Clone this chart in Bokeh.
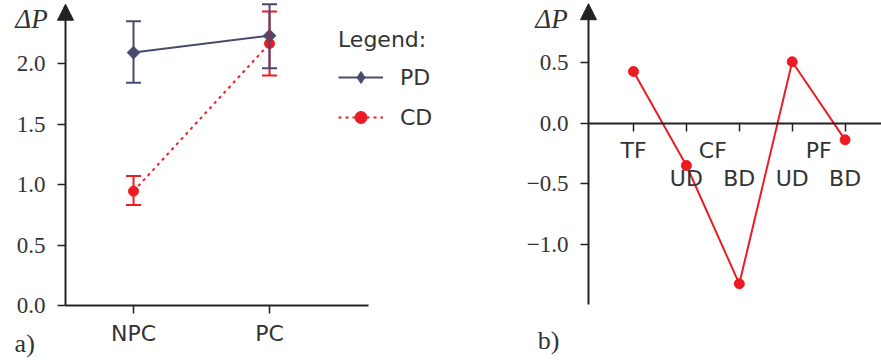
from bokeh.plotting import figure
from bokeh.models import (ColumnDataSource, Range1d, LinearAxis, FixedTicker, Whisker,
                          TeeHead, Arrow, NormalHead, Legend, LegendItem)
from bokeh.layouts import row
from bokeh.core.properties import value
from bokeh.embed import file_html
from bokeh.resources import INLINE

# ---------------- data: panel a ----------------
conditions = ["NPC", "PC"]
pd_mean = [2.09, 2.23]
pd_upper = [2.35, 2.49]
pd_lower = [1.84, 1.96]
cd_mean = [0.945, 2.165]
cd_upper = [1.07, 2.43]
cd_lower = [0.83, 1.90]
yticks_a = [0.0, 0.5, 1.0, 1.5, 2.0]
ytick_labels_a = ["0.0", "0.5", "1.0", "1.5", "2.0"]

# ---------------- data: panel b ----------------
point_groups = ["TF", "CF", "CF", "PF", "PF"]
point_subs = ["", "UD", "BD", "UD", "BD"]
delta_b = [0.43, -0.347, -1.325, 0.51, -0.135]
yticks_b = [0.5, 0.0, -0.5, -1.0]
ytick_labels_b = ["0.5", "0.0", "\u22120.5", "\u22121.0"]

PD_COLOR = "#4a4a6e"
CD_COLOR = "#ec1c24"
AXIS_COLOR = "#222222"
TEXT_COLOR = "#333333"
SANS = "DejaVu Sans"
SERIF = "Liberation Serif"
H = 360


def base_fig(width, xr, yr):
    p = figure(width=width, height=H, x_range=Range1d(*xr), y_range=Range1d(*yr),
               x_axis_type=None, y_axis_type=None, toolbar_location=None,
               output_backend="svg", min_border=0, outline_line_color=None,
               background_fill_color="white", border_fill_color="white")
    return p


def style_axis(ax, font, size):
    ax.axis_line_color = AXIS_COLOR
    ax.axis_line_width = 2
    ax.major_tick_line_color = AXIS_COLOR
    ax.major_tick_line_width = 1.5
    ax.major_tick_out = 8
    ax.major_tick_in = 0
    ax.minor_tick_line_color = None
    ax.major_label_text_font = font
    ax.major_label_text_font_size = size
    ax.major_label_text_color = TEXT_COLOR


# ================= panel a =================
xa = list(range(len(conditions)))
AX_A = -0.5
pa = base_fig(440, (-0.978, 2.257), (-0.4545, 2.5207))

ya = LinearAxis(fixed_location=AX_A, bounds=(0, 2.40), ticker=FixedTicker(ticks=yticks_a),
                major_label_overrides=dict(zip(yticks_a, ytick_labels_a)))
style_axis(ya, SERIF, "23px")
ya.major_label_standoff = 12
pa.add_layout(ya, "left")

xa_axis = LinearAxis(fixed_location=0, bounds=(AX_A, 1.728), ticker=FixedTicker(ticks=xa),
                     major_label_overrides=dict(zip(xa, conditions)))
style_axis(xa_axis, SANS, "22px")
xa_axis.major_label_standoff = 7
pa.add_layout(xa_axis, "below")

pa.add_layout(Arrow(end=NormalHead(size=16, fill_color=AXIS_COLOR, line_color=AXIS_COLOR, line_width=1),
                    x_start=AX_A, y_start=2.36, x_end=AX_A, y_end=2.49,
                    line_color=AXIS_COLOR, line_width=2))

src_cd = ColumnDataSource(dict(x=xa, m=cd_mean, up=cd_upper, lo=cd_lower))
src_pd = ColumnDataSource(dict(x=xa, m=pd_mean, up=pd_upper, lo=pd_lower))

for src, col in ((src_cd, CD_COLOR), (src_pd, PD_COLOR)):
    pa.add_layout(Whisker(source=src, base="x", upper="up", lower="lo", dimension="height",
                          line_color=col, line_width=2, level="glyph",
                          upper_head=TeeHead(size=15, line_color=col, line_width=2),
                          lower_head=TeeHead(size=15, line_color=col, line_width=2)))

cd_line = pa.line("x", "m", source=src_cd, line_color=CD_COLOR, line_width=2, line_dash="3 4")
cd_sc = pa.scatter("x", "m", source=src_cd, marker="circle", size=10,
                   fill_color=CD_COLOR, line_color=CD_COLOR)
pd_line = pa.line("x", "m", source=src_pd, line_color=PD_COLOR, line_width=2)
# diamond (drawn underneath, used for the legend sample) + rotated square on top
pd_dia = pa.scatter("x", "m", source=src_pd, marker="diamond", size=12,
                    fill_color=PD_COLOR, line_color=PD_COLOR)
pd_sc = pa.scatter("x", "m", source=src_pd, marker="square", angle=0.785398, size=9,
                   fill_color=PD_COLOR, line_color=PD_COLOR)

pa.text(x=[-0.75], y=[2.368], text=["\u0394P"], text_font=value(SERIF), text_font_style="italic",
        text_font_size="27px", text_align="center", text_baseline="middle", text_color=TEXT_COLOR)
pa.text(x=[-0.80], y=[-0.31], text=["a)"], text_font=value(SERIF),
        text_font_size="26px", text_align="center", text_baseline="middle", text_color=TEXT_COLOR)

legend = Legend(items=[LegendItem(label="PD", renderers=[pd_line, pd_dia]),
                       LegendItem(label="CD", renderers=[cd_line, cd_sc])],
                title="Legend:", location=(338, 228),
                title_text_font=SANS, title_text_font_size="22px", title_text_font_style="normal",
                title_text_color=TEXT_COLOR, title_standoff=10,
                label_text_font=SANS, label_text_font_size="22px", label_text_color=TEXT_COLOR,
                label_standoff=17, glyph_width=45, glyph_height=30, label_height=30,
                spacing=10, padding=0, margin=0, border_line_color=None,
                background_fill_alpha=0)
pa.add_layout(legend)

# ================= panel b =================
xb = list(range(len(delta_b)))
AX_B = -0.851
pb = base_fig(441, (-3.648, 4.688), (-1.9587, 1.0165))

yb = LinearAxis(fixed_location=AX_B, bounds=(-1.5, 0.88), ticker=FixedTicker(ticks=yticks_b),
                major_label_overrides=dict(zip(yticks_b, ytick_labels_b)))
style_axis(yb, SERIF, "23px")
yb.major_label_standoff = 12
pb.add_layout(yb, "left")

xb_axis = LinearAxis(fixed_location=0, bounds=(AX_B, 4.688), ticker=FixedTicker(ticks=xb),
                     major_label_overrides={i: "" for i in xb})
style_axis(xb_axis, SANS, "22px")
pb.add_layout(xb_axis, "below")

pb.add_layout(Arrow(end=NormalHead(size=16, fill_color=AXIS_COLOR, line_color=AXIS_COLOR, line_width=1),
                    x_start=AX_B, y_start=0.86, x_end=AX_B, y_end=0.99,
                    line_color=AXIS_COLOR, line_width=2))

src_b = ColumnDataSource(dict(x=xb, y=delta_b))
pb.line("x", "y", source=src_b, line_color=CD_COLOR, line_width=2)
pb.scatter("x", "y", source=src_b, marker="circle", size=10, fill_color=CD_COLOR, line_color=CD_COLOR)

# category labels: groups on first row, sub-conditions on second row
group_names = []
for g in point_groups:
    if g not in group_names:
        group_names.append(g)
group_x = [sum(i for i, gg in enumerate(point_groups) if gg == g) /
           sum(1 for gg in point_groups if gg == g) for g in group_names]
pb.text(x=group_x, y=[-0.225] * len(group_names), text=group_names, text_font=value(SANS),
        text_font_size="22px", text_align="center", text_baseline="middle", text_color=TEXT_COLOR)
sub_x = [i for i, s in enumerate(point_subs) if s]
sub_t = [s for s in point_subs if s]
pb.text(x=sub_x, y=[-0.455] * len(sub_x), text=sub_t, text_font=value(SANS),
        text_font_size="22px", text_align="center", text_baseline="middle", text_color=TEXT_COLOR)

pb.text(x=[-1.55], y=[0.864], text=["\u0394P"], text_font=value(SERIF), text_font_style="italic",
        text_font_size="27px", text_align="center", text_baseline="middle", text_color=TEXT_COLOR)
pb.text(x=[-1.607], y=[-1.79], text=["b)"], text_font=value(SERIF),
        text_font_size="26px", text_align="center", text_baseline="middle", text_color=TEXT_COLOR)

layout = row(pa, pb)
open("out.html", "w").write(file_html(layout, INLINE))
